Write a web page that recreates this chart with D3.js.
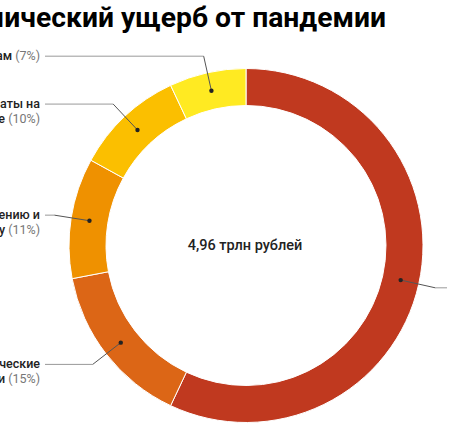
<!DOCTYPE html>
<html><head><meta charset="utf-8">
<script src="https://cdn.jsdelivr.net/npm/d3@7"></script>
<style>
html,body{margin:0;padding:0;background:#fff;overflow:hidden;}
svg{display:block;font-family:Roboto,"Noto Sans",sans-serif;}
</style></head>
<body>
<script>
const title = "Экономический ущерб от пандемии";
const totalLabel = "4,96 трлн рублей";
const categories = [
  ["Потери бизнеса"],
  ["Экономические", "потери"],
  ["Помощь населению и", "бизнесу"],
  ["Выплаты на", "лечение"],
  ["Помощь регионам"]
];
const shares = [57, 15, 11, 10, 7];
const colors = ["#C0391F", "#DC6616", "#EF9100", "#FBBF00", "#FFEA22"];

const W = 450, H = 444;
const cx = 246, cy = 245.5;
const rOuter = 177, rInner = 140, rLabel = 194, labelOffset = 206;

const svg = d3.select("body").append("svg").attr("width", W).attr("height", H);

svg.append("text")
  .attr("x", 386).attr("y", 27)
  .attr("text-anchor", "end")
  .attr("font-size", 28.3).attr("font-weight", 700).attr("fill", "#000")
  .text(title);

const data = shares.map((v, i) => ({value: v, lines: categories[i], color: colors[i]}));
const pie = d3.pie().sort(null).value(d => d.value);
const arcs = pie(data);
const arc = d3.arc().innerRadius(rInner).outerRadius(rOuter);
const midArc = d3.arc().innerRadius((rInner + rOuter) / 2).outerRadius((rInner + rOuter) / 2);
const outArc = d3.arc().innerRadius(rLabel).outerRadius(rLabel);

const g = svg.append("g").attr("transform", `translate(${cx},${cy})`);

g.selectAll("path.slice").data(arcs).join("path")
  .attr("class", "slice")
  .attr("d", arc)
  .attr("fill", d => d.data.color)
  .attr("stroke", "#fff").attr("stroke-width", 1);

g.append("text")
  .attr("x", -1).attr("y", 4.5)
  .attr("text-anchor", "middle")
  .attr("font-size", 14.5).attr("font-weight", 500).attr("fill", "#222")
  .text(totalLabel);

arcs.forEach(a => {
  const [dx, dy] = midArc.centroid(a);
  const [ex, ey] = outArc.centroid(a);
  const right = ex > 0;
  const lineEnd = right ? labelOffset - 5 : -(labelOffset - 5);
  g.append("line").attr("x1", ex).attr("y1", ey).attr("x2", lineEnd).attr("y2", ey)
    .attr("stroke", "#999").attr("stroke-width", 1);
  g.append("line").attr("x1", dx).attr("y1", dy).attr("x2", ex).attr("y2", ey)
    .attr("stroke", "#555").attr("stroke-width", 1);
  g.append("circle").attr("cx", dx).attr("cy", dy).attr("r", 2.2).attr("fill", "#222");

  const t = g.append("text")
    .attr("text-anchor", right ? "start" : "end")
    .attr("font-size", 12.5);
  const lx = right ? labelOffset : -labelOffset;
  const lines = a.data.lines;
  lines.forEach((ln, i) => {
    t.append("tspan").attr("x", lx).attr("y", ey + 4 + i * 15)
      .attr("fill", "#222").attr("font-weight", 500).text(ln);
    if (i === lines.length - 1) {
      t.append("tspan").attr("fill", "#777").attr("font-weight", 400).text(" (" + a.data.value + "%)");
    }
  });
});
</script>
</body></html>
